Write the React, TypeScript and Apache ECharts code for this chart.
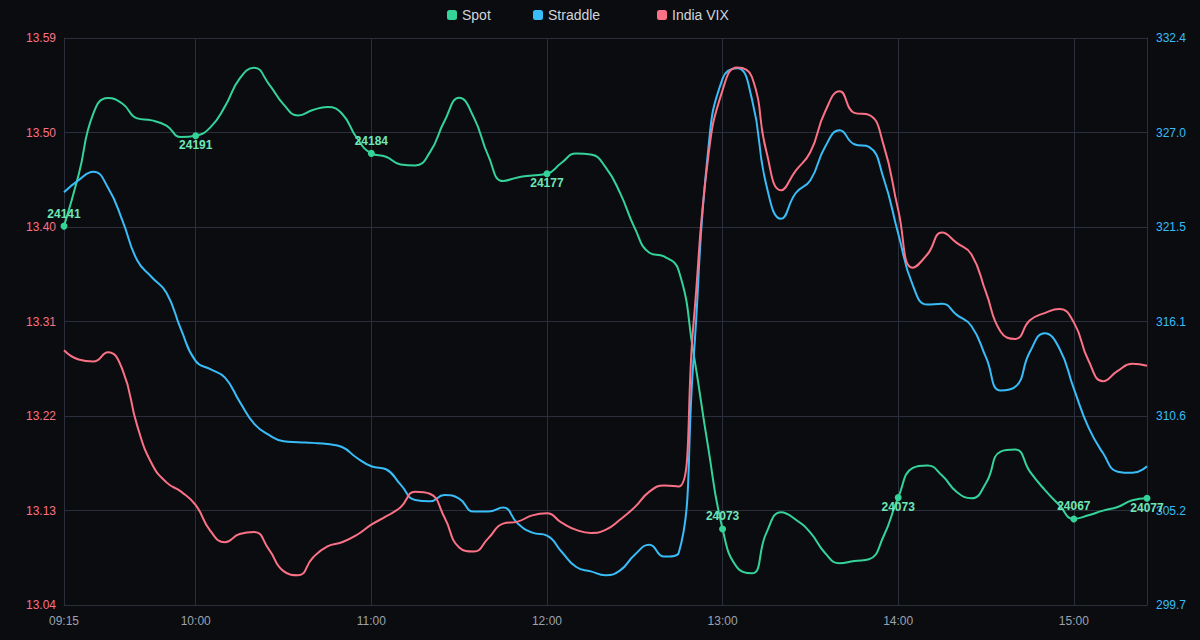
import React, { useEffect, useRef } from "react";
import * as echarts from "echarts";

// 5-minute timeline 09:15 -> 15:25
const times: string[] = [];
for (let m = 9 * 60 + 15; m <= 15 * 60 + 25; m += 5) {
  const h = Math.floor(m / 60);
  const mm = m % 60;
  times.push(`${String(h).padStart(2, "0")}:${String(mm).padStart(2, "0")}`);
}

// Spot (plotted on a hidden axis)
const spotValues = [
  24163.6, 24179.0, 24197.3, 24202.0, 24200.3, 24195.9, 24195.3, 24193.7, 24190.3, 24190.7,
  24193.2, 24199.5, 24207.8, 24211.1, 24206.2, 24200.1, 24196.8, 24198.4, 24199.3, 24197.3,
  24190.1, 24185.4, 24184.4, 24182.1, 24181.8, 24185.7, 24195.1, 24202.1, 24196.2, 24184.6,
  24177.1, 24178.2, 24178.8, 24179.3, 24182.6, 24185.4, 24185.1, 24181.3, 24173.5, 24163.0,
  24155.6, 24154.5, 24150.3, 24125.9, 24097.7, 24072.8, 24061.2, 24059.5, 24071.7, 24077.8,
  24075.6, 24071.7, 24065.6, 24062.5, 24063.2, 24063.7, 24070.6, 24082.2, 24091.1, 24091.8,
  24088.8, 24083.9, 24082.0, 24086.6, 24096.0, 24096.6, 24090.0, 24084.6, 24080.0, 24075.8,
  24076.9, 24078.3, 24079.4, 24081.4, 24082.0,
];

// Straddle (right axis)
const straddleValues = [
  323.52, 324.22, 324.71, 323.80, 321.88, 319.60, 318.62, 317.73, 315.60, 313.79,
  313.32, 312.83, 311.45, 310.17, 309.53, 309.17, 309.11, 309.07, 309.00, 308.83,
  308.21, 307.72, 307.55, 306.66, 305.77, 305.70, 306.06, 305.85, 305.11, 305.11,
  305.34, 304.42, 303.89, 303.72, 302.79, 301.91, 301.66, 301.44, 301.72, 302.62,
  303.19, 302.51, 302.72, 313.69, 325.82, 330.08, 330.67, 328.91, 323.90, 321.99,
  323.48, 324.22, 326.14, 327.10, 326.29, 326.14, 324.33, 321.14, 318.16, 317.05,
  317.09, 316.45, 315.81, 314.00, 312.09, 312.30, 314.32, 315.39, 314.54, 312.20,
  309.96, 308.47, 307.41, 307.34, 307.72,
];

// India VIX (left axis)
const vixValues = [
  13.285, 13.276, 13.274, 13.283, 13.266, 13.212, 13.175, 13.157, 13.148, 13.135,
  13.110, 13.099, 13.107, 13.109, 13.092, 13.071, 13.067, 13.084, 13.095, 13.099,
  13.106, 13.116, 13.124, 13.133, 13.148, 13.146, 13.123, 13.094, 13.090, 13.103,
  13.117, 13.119, 13.125, 13.127, 13.118, 13.111, 13.108, 13.111, 13.121, 13.133,
  13.148, 13.154, 13.153, 13.309, 13.470, 13.537, 13.559, 13.550, 13.477, 13.440,
  13.459, 13.477, 13.516, 13.536, 13.515, 13.513, 13.484, 13.421, 13.365, 13.378,
  13.399, 13.389, 13.378, 13.341, 13.303, 13.296, 13.314, 13.321, 13.325, 13.312,
  13.275, 13.255, 13.265, 13.272, 13.270,
];

// Spot markers (labels as shown)
const spotMarkIdx = [0, 9, 21, 33, 45, 57, 69, 74];
const spotMarkText = ["24141", "24191", "24184", "24177", "24073", "24073", "24067", "24077"];
const spotMarkPos = ["top", "bottom", "top", "bottom", "top", "bottom", "top", "bottom"];

// Axis ranges / ticks
const vixMin = 13.0382;
const vixMax = 13.5875;
const strMin = 299.72;
const strMax = 332.42;
const spotMin = 24050;
const spotMax = 24220;

const GREEN = "#34d399";
const BLUE = "#38bdf8";
const RED = "#fb7185";
const GRID = "#2a2f3b";
const BG = "#0b0c10";
const FONT = "Liberation Sans, Arial, sans-serif";

export default function App() {
  const ref = useRef<HTMLDivElement>(null);

  useEffect(() => {
    if (!ref.current) return;
    const chart = echarts.init(ref.current, undefined, { renderer: "svg" });

    const showIdx = (i: number) => i === 0 || times[i].endsWith(":00");

    const spotData = spotValues.map((v, i) => {
      const k = spotMarkIdx.indexOf(i);
      if (k < 0) return v;
      const top = spotMarkPos[k] === "top";
      return {
        value: v,
        symbol: "circle",
        symbolSize: 7,
        itemStyle: { color: GREEN },
        label: {
          show: true,
          position: spotMarkPos[k],
          distance: top ? 3 : 0,
          formatter: spotMarkText[k],
          color: "#6ee7b7",
          fontSize: 12,
          fontWeight: 600,
          fontFamily: FONT,
        },
      };
    });

    const legendBase = {
      top: 8,
      padding: 0,
      icon: "roundRect",
      itemWidth: 10,
      itemHeight: 10,
      itemGap: 0,
      textStyle: { color: "#d1d5db", fontSize: 14, fontFamily: FONT },
    };

    chart.setOption({
      animation: false,
      backgroundColor: BG,
      textStyle: { fontFamily: FONT },
      legend: [
        { ...legendBase, left: 447, data: ["Spot"] },
        { ...legendBase, left: 533, data: ["Straddle"] },
        { ...legendBase, left: 657, data: ["India VIX"] },
      ],
      grid: { left: 64, right: 53, top: 38, bottom: 35, containLabel: false },
      xAxis: {
        type: "category",
        data: times,
        boundaryGap: false,
        axisLine: { show: true, lineStyle: { color: GRID } },
        axisTick: { show: false },
        axisLabel: {
          color: "#9ca3af",
          fontSize: 12,
          margin: 10,
          interval: (i: number) => showIdx(i),
        },
        splitLine: {
          show: true,
          interval: (i: number) => showIdx(i),
          lineStyle: { color: GRID, width: 1 },
        },
      },
      yAxis: [
        {
          type: "value",
          position: "left",
          min: vixMin,
          max: vixMax,
          interval: (vixMax - vixMin) / 6,
          axisLine: { show: true, lineStyle: { color: GRID } },
          axisTick: { show: false },
          axisLabel: {
            color: RED,
            fontSize: 12,
            margin: 8,
            formatter: (v: number) => v.toFixed(2),
          },
          splitLine: { show: true, lineStyle: { color: GRID, width: 1 } },
        },
        {
          type: "value",
          position: "right",
          min: strMin,
          max: strMax,
          interval: (strMax - strMin) / 6,
          axisLine: { show: true, lineStyle: { color: GRID } },
          axisTick: { show: false },
          axisLabel: {
            color: BLUE,
            fontSize: 12,
            margin: 9,
            formatter: (v: number) => v.toFixed(1),
          },
          splitLine: { show: false },
        },
        {
          type: "value",
          show: false,
          min: spotMin,
          max: spotMax,
          splitLine: { show: false },
        },
      ],
      series: [
        {
          name: "Spot",
          type: "line",
          yAxisIndex: 2,
          data: spotData,
          smooth: true,
          symbol: "none",
          showSymbol: true,
          showAllSymbol: true,
          color: GREEN,
          lineStyle: { color: GREEN, width: 2 },
        },
        {
          name: "Straddle",
          type: "line",
          yAxisIndex: 1,
          data: straddleValues,
          smooth: true,
          symbol: "none",
          color: BLUE,
          lineStyle: { color: BLUE, width: 2 },
        },
        {
          name: "India VIX",
          type: "line",
          yAxisIndex: 0,
          data: vixValues,
          smooth: true,
          symbol: "none",
          color: RED,
          lineStyle: { color: RED, width: 2 },
        },
      ],
    });

    return () => chart.dispose();
  }, []);

  return (
    <div
      ref={ref}
      style={{ width: 1200, height: 640, position: "absolute", left: 0, top: 0 }}
    />
  );
}
